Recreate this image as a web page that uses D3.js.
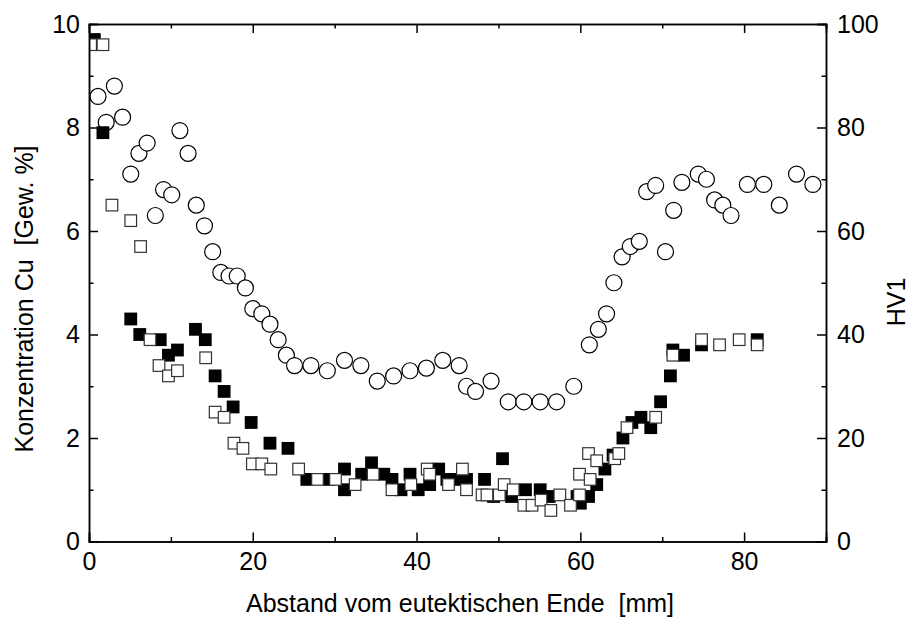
<!DOCTYPE html>
<html>
<head>
<meta charset="utf-8">
<script src="https://cdn.jsdelivr.net/npm/d3@7"></script>
<style>
  body{margin:0;background:#fff;}
  svg{display:block;font-family:"Liberation Sans",Arial,sans-serif;}
  .axis path,.axis line{stroke:#000;stroke-width:1.5;}
  .axis text{font-size:25px;fill:#000;font-family:"Liberation Sans",Arial,sans-serif;}
  .title{font-size:25px;fill:#000;white-space:pre;}
</style>
</head>
<body>
<svg id="chart" width="912" height="621"></svg>
<script>
// Härte HV1 (rechte Achse), offene Kreise
const hvData = [
  [1.1,86],[2.1,81],[3.1,88],[4.1,82],[5.1,71],[6.1,75],[7.1,77],[8.1,63],[9.1,68],[10.1,67],
  [11.1,79.4],[12.1,75],[13.1,65],[14.1,61],[15.1,56],[16.1,52],[17.1,51.3],[18.1,51.3],[19.1,49],
  [20.0,45],[21.1,44],[22.1,42],[23.1,39],[24.1,36],[25.1,34],[27.1,34],[29.1,33],[31.2,35],
  [33.2,34],[35.2,31],[37.2,32],[39.2,33],[41.2,33.5],[43.2,35],[45.2,34],[46.1,30],[47.2,29],
  [49.1,31],[51.2,27],[53.1,27],[55.1,27],[57.1,27],[59.2,30],[61.1,38],[62.2,41],[63.2,44],
  [64.1,50],[65.1,55],[66.1,57],[67.2,58],[68.1,67.6],[69.2,68.8],[70.4,56],[71.4,64],[72.4,69.4],
  [74.4,71],[75.4,70],[76.4,66],[77.4,65],[78.4,63],[80.4,69],[82.4,69],[84.3,65],[86.4,71],[88.4,69]
];
// Cu-Konzentration, gefüllte Quadrate
const cuFilled = [
  [0.65,9.7],[1.7,7.9],[5.1,4.3],[6.2,4.0],[8.7,3.9],[9.7,3.6],[10.8,3.7],[13.0,4.1],[14.2,3.9],
  [15.4,3.2],[16.5,2.9],[17.6,2.6],[19.8,2.3],[22.1,1.9],[24.3,1.8],[26.6,1.2],[29.3,1.2],
  [31.2,1.4],[31.2,1.0],[33.3,1.3],[34.5,1.52],[36.0,1.3],[37.0,1.2],[38.1,1.0],[39.2,1.3],
  [40.2,1.0],[41.6,1.1],[42.7,1.4],[43.7,1.2],[44.8,1.2],[46.1,1.2],[48.3,1.2],[49.4,0.87],
  [50.5,1.6],[51.6,0.87],[53.3,1.0],[55.1,1.0],[56.2,0.87],[59.6,0.87],[60.0,0.74],[61.0,0.87],
  [62.0,1.1],[63.0,1.4],[64.0,1.67],[65.2,2.0],[66.3,2.3],[67.4,2.4],[68.6,2.2],[69.8,2.7],
  [71.0,3.2],[71.3,3.7],[72.6,3.6],[74.8,3.8],[81.6,3.9]
];
// Cu-Konzentration, offene Quadrate
const cuOpen = [
  [0.2,9.6],[1.7,9.6],[2.8,6.5],[5.1,6.2],[6.3,5.7],[7.45,3.9],[8.55,3.4],[9.7,3.2],[10.8,3.3],
  [14.25,3.55],[15.4,2.5],[16.5,2.4],[17.7,1.9],[18.8,1.8],[19.95,1.5],[21.1,1.5],[22.2,1.4],
  [25.6,1.4],[27.9,1.2],[30.1,1.2],[32.5,1.1],[34.7,1.3],[37.0,1.0],[39.3,1.1],[41.3,1.4],
  [41.6,1.3],[43.9,1.1],[45.6,1.4],[46.1,1.0],[48.0,0.9],[48.6,0.9],[50.1,0.9],[50.7,1.1],
  [51.8,1.0],[53.1,0.7],[54.1,0.7],[55.2,0.8],[56.4,0.6],[57.5,0.9],[58.8,0.7],[59.9,0.9],
  [59.9,1.3],[61.0,1.7],[61.2,1.2],[62.0,1.56],[64.2,1.6],[64.7,1.7],[65.7,2.2],[69.2,2.4],
  [71.3,3.6],[74.8,3.9],[77.0,3.8],[79.4,3.9],[81.6,3.8]
];
const xMajor = [0,20,40,60,80];
const xMinor = [10,30,50,70,90];
const yMajor = [0,2,4,6,8,10];
const yMinor = [1,3,5,7,9];
const hvMajor = [0,20,40,60,80,100];
const hvMinor = [10,30,50,70,90];
const xTitle = 'Abstand vom eutektischen Ende  [mm]';
const yTitle = 'Konzentration Cu  [Gew. %]';
const hvTitle = 'HV1';

const m = {left:89, right:826, top:24, bottom:541.5};
const svg = d3.select('#chart');

const x = d3.scaleLinear().domain([0,90]).range([m.left,m.right]);
const y = d3.scaleLinear().domain([0,10]).range([m.bottom,m.top]);
const yHV = d3.scaleLinear().domain([0,100]).range([m.bottom,m.top]);

svg.append('defs').append('clipPath').attr('id','plotclip')
  .append('rect').attr('x',m.left).attr('y',m.top).attr('width',m.right-m.left).attr('height',m.bottom-m.top);

const plot = svg.append('g').attr('clip-path','url(#plotclip)');
const sq = 12.8;

plot.append('g').selectAll('circle').data(hvData).enter().append('circle')
  .attr('cx',d=>x(d[0])).attr('cy',d=>yHV(d[1])).attr('r',8)
  .attr('fill','#fff').attr('stroke','#000').attr('stroke-width',1.2);

plot.append('g').selectAll('rect').data(cuFilled).enter().append('rect')
  .attr('x',d=>x(d[0])-sq/2).attr('y',d=>y(d[1])-sq/2).attr('width',sq).attr('height',sq)
  .attr('fill','#000');

plot.append('g').selectAll('rect').data(cuOpen).enter().append('rect')
  .attr('x',d=>x(d[0])-sq/2+0.6).attr('y',d=>y(d[1])-sq/2+0.6).attr('width',sq-1.2).attr('height',sq-1.2)
  .attr('fill','#fff').attr('stroke','#333').attr('stroke-width',1.2);

// Achsen (Ticks nach innen)
function addAxis(axis, tx, ty){
  const g = svg.append('g').attr('class','axis').attr('transform',`translate(${tx},${ty})`).call(axis);
  g.select('.domain').attr('fill','none');
  return g;
}
addAxis(d3.axisBottom(x).tickValues(xMajor).tickSize(-9).tickPadding(11).tickFormat(d3.format('d')),0,m.bottom);
addAxis(d3.axisBottom(x).tickValues(xMinor).tickSize(-4.5).tickFormat(''),0,m.bottom);
addAxis(d3.axisTop(x).tickValues(xMajor).tickSize(-9).tickFormat(''),0,m.top);
addAxis(d3.axisTop(x).tickValues(xMinor).tickSize(-4.5).tickFormat(''),0,m.top);
addAxis(d3.axisLeft(y).tickValues(yMajor).tickSize(-9).tickPadding(9).tickFormat(d3.format('d')),m.left,0);
addAxis(d3.axisLeft(y).tickValues(yMinor).tickSize(-4.5).tickFormat(''),m.left,0);
addAxis(d3.axisRight(yHV).tickValues(hvMajor).tickSize(-9).tickPadding(11).tickFormat(d3.format('d')),m.right,0);
addAxis(d3.axisRight(yHV).tickValues(hvMinor).tickSize(-4.5).tickFormat(''),m.right,0);

svg.append('text').attr('class','title').attr('x',460).attr('y',612)
  .attr('text-anchor','middle').text(xTitle);
svg.append('text').attr('class','title').attr('transform','translate(33,299) rotate(-90)')
  .attr('text-anchor','middle').text(yTitle);
svg.append('text').attr('class','title').attr('transform','translate(905,302) rotate(-90)')
  .attr('text-anchor','middle').text(hvTitle);
</script>
</body>
</html>
